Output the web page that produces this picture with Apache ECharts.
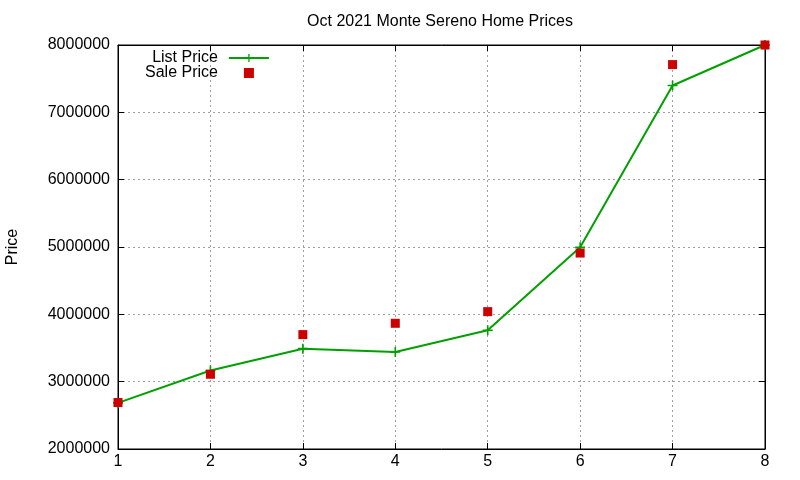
<!DOCTYPE html>
<html>
<head>
<meta charset="utf-8">
<script src="https://cdn.jsdelivr.net/npm/echarts@6/dist/echarts.min.js"></script>
<style>
  html, body { margin: 0; padding: 0; background: #fff; }
  #chart { width: 800px; height: 480px; }
</style>
</head>
<body>
<div id="chart"></div>
<script>
// 数据
const months = [1, 2, 3, 4, 5, 6, 7, 8];
const listPrice = [2685000, 3165000, 3490000, 3442000, 3763000, 4995000, 7398000, 8000000];
const salePrice = [2690000, 3110000, 3699000, 3867000, 4040000, 4910000, 7709000, 8000000];
const yTicks = [2000000, 3000000, 4000000, 5000000, 6000000, 7000000, 8000000];

const font = 'Liberation Sans, Arial, sans-serif';
const plus = 'path://M4.2,0H5.8V4.2H10V5.8H5.8V10H4.2V5.8H0V4.2H4.2Z';
const square = 'path://M0,0H10V10H0Z';

const chart = echarts.init(document.getElementById('chart'));

const gridLine = { show: true, lineStyle: { color: '#a0a0a0', type: [2, 3], width: 1 } };
const tickIn = { inside: true, length: 6, lineStyle: { color: '#000' } };

chart.setOption({
  animation: false,
  title: {
    text: 'Oct 2021 Monte Sereno Home Prices',
    left: 435,
    textAlign: 'center',
    top: 9,
    textStyle: { fontFamily: font, fontSize: 16, fontWeight: 'normal', color: '#000' },
  },
  legend: {
    left: 140,
    top: 45,
    orient: 'vertical',
    align: 'right',
    itemGap: -1,
    itemWidth: 40,
    itemHeight: 10,
    symbolKeepAspect: true,
    textStyle: { fontFamily: font, fontSize: 16, color: '#000', padding: [0, 6, 0, 0] },
    data: [
      { name: 'List Price' },
      { name: 'Sale Price', icon: square },
    ],
  },
  grid: {
    left: 118, right: 35, top: 45, bottom: 31,
    outerBoundsMode: 'none',
    containLabel: false,
    show: true, borderColor: '#000', borderWidth: 1,
  },
  xAxis: [
    {
      type: 'value', min: 1, max: 8, interval: 1,
      axisLine: { lineStyle: { color: '#000' } },
      axisTick: tickIn,
      splitLine: gridLine,
      axisLabel: { fontFamily: font, fontSize: 16, color: '#000', margin: 5 },
    },
    {
      type: 'value', min: 1, max: 8, interval: 1, position: 'top',
      axisLine: { lineStyle: { color: '#000' } },
      axisTick: tickIn,
      splitLine: { show: false },
      axisLabel: { show: false },
    },
  ],
  yAxis: [
    {
      type: 'value', min: yTicks[0], max: yTicks[yTicks.length - 1], interval: 1000000,
      name: 'Price',
      nameLocation: 'middle',
      nameGap: 97,
      nameTextStyle: { fontFamily: font, fontSize: 16, color: '#000' },
      axisLine: { show: true, lineStyle: { color: '#000' } },
      axisTick: tickIn,
      splitLine: gridLine,
      axisLabel: { fontFamily: font, fontSize: 16, color: '#000', margin: 8, formatter: v => String(v) },
    },
    {
      type: 'value', min: yTicks[0], max: yTicks[yTicks.length - 1], interval: 1000000, position: 'right',
      axisLine: { show: true, lineStyle: { color: '#000' } },
      axisTick: tickIn,
      splitLine: { show: false },
      axisLabel: { show: false },
    },
  ],
  series: [
    {
      name: 'List Price',
      type: 'line',
      data: months.map((m, i) => [m, listPrice[i]]),
      symbol: plus,
      symbolSize: 10,
      showAllSymbol: true,
      lineStyle: { color: '#00a000', width: 2 },
      itemStyle: { color: '#00a000' },
      z: 2,
    },
    {
      name: 'Sale Price',
      type: 'scatter',
      data: months.map((m, i) => [m, salePrice[i]]),
      symbol: 'rect',
      symbolSize: 9,
      itemStyle: { color: '#cc0000', opacity: 1 },
      z: 3,
    },
  ],
});
</script>
</body>
</html>
